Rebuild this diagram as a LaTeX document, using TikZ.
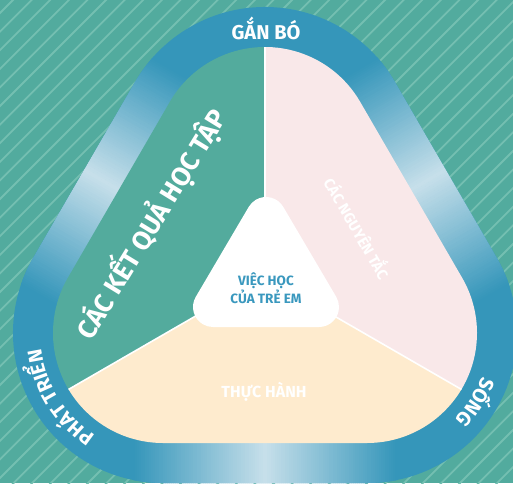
\documentclass[tikz,border=0pt]{standalone}
\usepackage{fontspec}
\setmainfont{Fira Sans}
\usetikzlibrary{calc,decorations.text}
\definecolor{bgteal}{HTML}{52AB9E}
\definecolor{stripecol}{HTML}{74BFB1}
\definecolor{ringblue}{HTML}{3596BA}
\definecolor{ringlight}{HTML}{C6DFEA}
\definecolor{secteal}{HTML}{53AB9D}
\definecolor{secpink}{HTML}{F9E8E9}
\definecolor{seccream}{HTML}{FEEBCE}
\definecolor{txtblue}{HTML}{3A98BE}
\newcommand\ringfont{\bfseries\fontsize{20}{20}\selectfont}
\begin{document}
\begin{tikzpicture}[x=1pt,y=1pt,
  rtri/.style={insert path={($(T)+(30.1:#1)$) arc[start angle=30.1,end angle=149.9,radius=#1] -- ($(BL)+(149.9:#1)$) arc[start angle=149.9,end angle=270,radius=#1] -- ($(BR)+(270:#1)$) arc[start angle=270,end angle=390.1,radius=#1] -- cycle}},
  ctri/.style={insert path={($(cT)+(30.5:#1)$) arc[start angle=30.5,end angle=149.5,radius=#1] -- ($(cBL)+(149.5:#1)$) arc[start angle=149.5,end angle=270,radius=#1] -- ($(cBR)+(270:#1)$) arc[start angle=270,end angle=390.5,radius=#1] -- cycle}},
  lbl/.style={text=white, inner sep=0pt},
  divider/.style={white, line width=1.6},
  ringtext/.style={decorate, decoration={text along path, text align=center, text color=white, text={|\ringfont|#1}}}
]
\useasboundingbox (0,0) rectangle (513,483);
\coordinate (T) at (265,326);
\coordinate (BL) at (163,150);
\coordinate (BR) at (367,150);
\coordinate (O) at (265,207);
\coordinate (cT) at (266,266);
\coordinate (cBL) at (213,176);
\coordinate (cBR) at (319,176);

% background with stripes
\fill[bgteal] (0,0) rectangle (513,483);
\begin{scope}
  \clip (0,0) rectangle (513,483);
  \foreach \k in {-2,...,56} {
    \pgfmathsetmacro\c{13+18.6*\k}
    \draw[stripecol, line width=1.8] (-20,{463-\c}) -- (533,{1016-\c});
  }
\end{scope}

% outer ring
\fill[ringblue, rtri=150];
\begin{scope}
  \clip[rtri=150];
  \foreach \ang/\mx/\my in {0/265/20, 59.9/101.5/303.2, -59.9/428.5/303.2} {
    \begin{scope}[shift={(\mx,\my)}, rotate=\ang]
      \foreach \s in {-132,-130,...,130} {
        \pgfmathtruncatemacro\p{min(100,abs(\s+1)*100/130)}
        \fill[ringblue!\p!ringlight] (\s,-28) rectangle (\s+2.6,28);
      }
    \end{scope}
  }
\end{scope}

% inner sectors
\begin{scope}
  \clip[rtri=110];
  \fill[secteal] (O) -- ($(O)+(90:600)$) -- ($(O)+(150:600)$) -- ($(O)+(210:600)$) -- cycle;
  \fill[secpink] (O) -- ($(O)+(90:600)$) -- ($(O)+(30:600)$) -- ($(O)+(-30:600)$) -- cycle;
  \fill[seccream] (O) -- ($(O)+(210:600)$) -- ($(O)+(270:600)$) -- ($(O)+(330:600)$) -- cycle;
  \draw[divider] (O) -- ($(O)+(90:600)$);
  \draw[divider] (O) -- ($(O)+(210:600)$);
  \draw[divider] (O) -- ($(O)+(330:600)$);
\end{scope}

% centre
\fill[white, ctri=20];
\node[font=\bfseries\fontsize{13.5}{17.5}\selectfont, text=txtblue, align=center, inner sep=0pt] (ctext) at (266,195) {VIỆC HỌC\\CỦA TRẺ EM};

% sector labels
\node[lbl, font=\bfseries\fontsize{26.5}{26.5}\selectfont, rotate=58.5] (kq) at (150,259.5) {CÁC KẾT QUẢ HỌC TẬP};
\node[lbl, font=\bfseries\fontsize{15}{15}\selectfont, rotate=-60] (nt) at (358.5,255.5) {CÁC NGUYÊN TẮC};
\node[lbl, font=\bfseries\fontsize{16}{16}\selectfont, anchor=base] (th) at (264,86) {THỰC HÀNH};

% ring labels
\node[lbl, font=\ringfont, anchor=base] (gb) at (266,443) {GẮN BÓ};
\path[ringtext=SỐNG] ($(BR)+(-2.6:123)$) arc[start angle=-2.6, end angle=-62.6, radius=123];
\path[ringtext=PHÁT TRIỂN] ($(BL)+(247:123)$) arc[start angle=247, end angle=177, radius=123];
\end{tikzpicture}
\end{document}
